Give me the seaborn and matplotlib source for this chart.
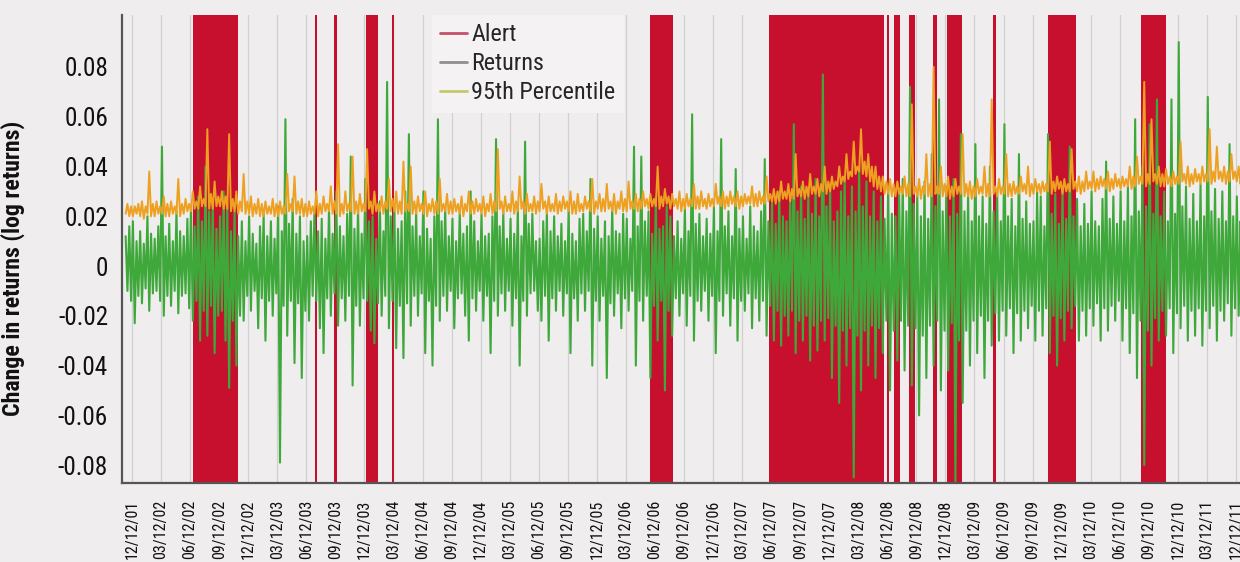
import numpy as np
import pandas as pd
import matplotlib
matplotlib.use("Agg")
import matplotlib.pyplot as plt
from matplotlib.lines import Line2D
from matplotlib import font_manager as fm
import seaborn as sns

# ---------------- data ----------------
quarter_labels = [
    "12/12/01", "03/12/02", "06/12/02", "09/12/02", "12/12/02", "03/12/03", "06/12/03",
    "09/12/03", "12/12/03", "03/12/04", "06/12/04", "09/12/04", "12/12/04", "03/12/05",
    "06/12/05", "09/12/05", "12/12/05", "03/12/06", "06/12/06", "09/12/06", "12/12/06",
    "03/12/07", "06/12/07", "09/12/07", "12/12/07", "03/12/08", "06/12/08", "09/12/08",
    "12/12/08", "03/12/09", "06/12/09", "09/12/09", "12/12/09", "03/12/10", "06/12/10",
    "09/12/10", "12/12/10", "03/12/11", "12/12/11",
]
yticks = [-0.08, -0.06, -0.04, -0.02, 0, 0.02, 0.04, 0.06, 0.08]

# alert periods (in quarters since 12/12/01)
alert_start = [2.10, 6.29, 6.95, 8.05, 8.95, 17.83, 21.93, 25.99, 26.22, 26.75, 27.57, 28.05, 29.64, 31.53, 34.73]
alert_end   = [3.65, 6.36, 7.06, 8.47, 9.02, 18.62, 25.89, 26.06, 26.44, 26.95, 27.71, 28.57, 29.74, 32.50, 35.59]

# returns: high / low within each 1/8-quarter bin (first bin starts at -0.25)
returns_hi = [
    0.012, 0.016, 0.018, 0.010, 0.014, 0.009, 0.020, 0.013, 0.011, 0.016,
    0.048, 0.012, 0.017, 0.010, 0.022, 0.014, 0.012, 0.019, 0.024, 0.016,
    0.028, 0.018, 0.040, 0.022, 0.026, 0.015, 0.020, 0.030, 0.025, 0.014,
    0.022, 0.012, 0.018, 0.010, 0.020, 0.013, 0.009, 0.016, 0.021, 0.012,
    0.018, 0.011, 0.024, 0.014, 0.059, 0.017, 0.027, 0.013, 0.020, 0.010,
    0.012, 0.018, 0.022, 0.014, 0.019, 0.011, 0.023, 0.013, 0.030, 0.016,
    0.012, 0.021, 0.044, 0.015, 0.024, 0.013, 0.035, 0.018, 0.020, 0.011,
    0.026, 0.014, 0.074, 0.020, 0.025, 0.015, 0.018, 0.030, 0.053, 0.016,
    0.022, 0.012, 0.030, 0.015, 0.011, 0.020, 0.059, 0.018, 0.024, 0.012,
    0.019, 0.010, 0.022, 0.013, 0.016, 0.030, 0.018, 0.010, 0.021, 0.012,
    0.013, 0.020, 0.051, 0.016, 0.022, 0.011, 0.019, 0.013, 0.024, 0.012,
    0.050, 0.017, 0.021, 0.010, 0.011, 0.018, 0.022, 0.014, 0.020, 0.012,
    0.017, 0.010, 0.023, 0.013, 0.010, 0.019, 0.021, 0.014, 0.035, 0.015,
    0.020, 0.011, 0.018, 0.012, 0.024, 0.014, 0.013, 0.021, 0.019, 0.011,
    0.048, 0.016, 0.044, 0.018, 0.022, 0.013, 0.028, 0.015, 0.016, 0.024,
    0.020, 0.012, 0.018, 0.011, 0.023, 0.014, 0.061, 0.017, 0.021, 0.012,
    0.019, 0.013, 0.024, 0.014, 0.051, 0.016, 0.022, 0.012, 0.039, 0.015,
    0.020, 0.011, 0.024, 0.016, 0.014, 0.022, 0.043, 0.018, 0.026, 0.017,
    0.030, 0.020, 0.018, 0.028, 0.057, 0.022, 0.032, 0.019, 0.030, 0.021,
    0.035, 0.020, 0.077, 0.024, 0.033, 0.018, 0.022, 0.030, 0.036, 0.020,
    0.032, 0.022, 0.040, 0.024, 0.034, 0.020, 0.030, 0.018, 0.028, 0.019,
    0.032, 0.021, 0.020, 0.030, 0.035, 0.022, 0.072, 0.025, 0.030, 0.020,
    0.034, 0.019, 0.045, 0.024, 0.067, 0.022, 0.032, 0.020, 0.035, 0.021,
    0.053, 0.022, 0.030, 0.018, 0.049, 0.020, 0.028, 0.017, 0.040, 0.022,
    0.030, 0.018, 0.057, 0.020, 0.027, 0.016, 0.045, 0.019, 0.026, 0.017,
    0.018, 0.030, 0.028, 0.016, 0.053, 0.021, 0.029, 0.017, 0.031, 0.019,
    0.048, 0.020, 0.027, 0.016, 0.025, 0.017, 0.030, 0.018, 0.016, 0.027,
    0.042, 0.019, 0.028, 0.017, 0.030, 0.018, 0.032, 0.020, 0.059, 0.022,
    0.040, 0.024, 0.057, 0.021, 0.067, 0.020, 0.030, 0.018, 0.067, 0.021,
    0.090, 0.024, 0.032, 0.019, 0.029, 0.018, 0.033, 0.020, 0.068, 0.022,
    0.031, 0.019, 0.030, 0.018, 0.049, 0.020, 0.028, 0.018,
]
returns_lo = [
    -0.010, -0.014, -0.023, -0.012, -0.015, -0.009, -0.018, -0.011, -0.010, -0.014,
    -0.020, -0.012, -0.016, -0.010, -0.019, -0.012, -0.011, -0.017, -0.022, -0.014,
    -0.030, -0.018, -0.028, -0.016, -0.035, -0.020, -0.018, -0.030, -0.049, -0.022,
    -0.040, -0.020, -0.022, -0.012, -0.018, -0.010, -0.025, -0.013, -0.030, -0.014,
    -0.020, -0.011, -0.079, -0.016, -0.028, -0.014, -0.039, -0.015, -0.045, -0.018,
    -0.022, -0.012, -0.014, -0.025, -0.035, -0.013, -0.020, -0.011, -0.024, -0.013,
    -0.022, -0.012, -0.048, -0.016, -0.024, -0.013, -0.014, -0.026, -0.031, -0.015,
    -0.020, -0.012, -0.025, -0.014, -0.033, -0.016, -0.037, -0.015, -0.024, -0.012,
    -0.020, -0.011, -0.035, -0.014, -0.040, -0.016, -0.022, -0.012, -0.018, -0.010,
    -0.025, -0.013, -0.011, -0.020, -0.030, -0.013, -0.018, -0.010, -0.022, -0.012,
    -0.035, -0.014, -0.020, -0.011, -0.018, -0.010, -0.024, -0.013, -0.040, -0.014,
    -0.020, -0.011, -0.010, -0.018, -0.022, -0.012, -0.030, -0.013, -0.018, -0.010,
    -0.020, -0.011, -0.035, -0.013, -0.022, -0.011, -0.018, -0.010, -0.040, -0.014,
    -0.022, -0.012, -0.045, -0.015, -0.020, -0.011, -0.025, -0.013, -0.018, -0.010,
    -0.040, -0.014, -0.022, -0.012, -0.045, -0.016, -0.030, -0.014, -0.050, -0.018,
    -0.028, -0.013, -0.020, -0.011, -0.024, -0.012, -0.030, -0.014, -0.018, -0.010,
    -0.022, -0.012, -0.035, -0.014, -0.020, -0.011, -0.024, -0.013, -0.030, -0.014,
    -0.018, -0.011, -0.025, -0.013, -0.022, -0.014, -0.028, -0.016, -0.030, -0.018,
    -0.032, -0.020, -0.028, -0.018, -0.035, -0.022, -0.030, -0.020, -0.038, -0.024,
    -0.034, -0.022, -0.030, -0.021, -0.045, -0.024, -0.055, -0.026, -0.040, -0.025,
    -0.085, -0.028, -0.050, -0.026, -0.040, -0.024, -0.045, -0.025, -0.035, -0.022,
    -0.050, -0.026, -0.038, -0.022, -0.042, -0.024, -0.048, -0.025, -0.060, -0.028,
    -0.045, -0.024, -0.040, -0.022, -0.050, -0.026, -0.042, -0.023, -0.087, -0.030,
    -0.055, -0.026, -0.040, -0.022, -0.035, -0.020, -0.045, -0.022, -0.032, -0.019,
    -0.030, -0.018, -0.028, -0.017, -0.035, -0.019, -0.030, -0.018, -0.025, -0.016,
    -0.030, -0.018, -0.028, -0.017, -0.035, -0.020, -0.040, -0.021, -0.030, -0.018,
    -0.025, -0.016, -0.030, -0.018, -0.028, -0.017, -0.024, -0.015, -0.030, -0.017,
    -0.026, -0.016, -0.022, -0.014, -0.030, -0.017, -0.035, -0.019, -0.045, -0.022,
    -0.080, -0.026, -0.040, -0.021, -0.030, -0.018, -0.028, -0.017, -0.035, -0.019,
    -0.025, -0.016, -0.030, -0.018, -0.028, -0.017, -0.032, -0.018, -0.025, -0.016,
    -0.030, -0.018, -0.022, -0.015, -0.028, -0.017, -0.020, -0.014,
]

# 95th percentile: low / high within each 1/8-quarter bin
perc_lo = [
    0.021, 0.020, 0.020, 0.021, 0.020, 0.019, 0.021, 0.020, 0.020, 0.021,
    0.021, 0.020, 0.020, 0.021, 0.021, 0.020, 0.021, 0.022, 0.022, 0.023,
    0.023, 0.024, 0.024, 0.023, 0.023, 0.024, 0.024, 0.023, 0.023, 0.022,
    0.022, 0.021, 0.022, 0.021, 0.021, 0.020, 0.021, 0.020, 0.020, 0.021,
    0.021, 0.020, 0.020, 0.021, 0.021, 0.022, 0.022, 0.021, 0.021, 0.020,
    0.020, 0.021, 0.021, 0.020, 0.021, 0.022, 0.022, 0.021, 0.021, 0.020,
    0.021, 0.022, 0.022, 0.021, 0.021, 0.022, 0.022, 0.023, 0.021, 0.022,
    0.022, 0.021, 0.023, 0.022, 0.022, 0.021, 0.021, 0.022, 0.022, 0.021,
    0.021, 0.022, 0.021, 0.020, 0.022, 0.021, 0.021, 0.022, 0.022, 0.021,
    0.021, 0.022, 0.021, 0.020, 0.022, 0.021, 0.021, 0.022, 0.021, 0.020,
    0.022, 0.021, 0.022, 0.023, 0.021, 0.022, 0.022, 0.021, 0.022, 0.023,
    0.021, 0.022, 0.022, 0.021, 0.022, 0.023, 0.021, 0.022, 0.022, 0.021,
    0.022, 0.023, 0.022, 0.021, 0.021, 0.022, 0.022, 0.023, 0.022, 0.021,
    0.023, 0.022, 0.022, 0.023, 0.022, 0.021, 0.023, 0.022, 0.022, 0.023,
    0.023, 0.022, 0.023, 0.024, 0.023, 0.024, 0.024, 0.023, 0.024, 0.025,
    0.023, 0.024, 0.023, 0.022, 0.023, 0.024, 0.024, 0.023, 0.023, 0.024,
    0.023, 0.024, 0.024, 0.025, 0.024, 0.023, 0.024, 0.025, 0.024, 0.023,
    0.024, 0.025, 0.025, 0.024, 0.024, 0.025, 0.025, 0.026, 0.026, 0.025,
    0.026, 0.027, 0.027, 0.026, 0.027, 0.028, 0.028, 0.027, 0.028, 0.029,
    0.029, 0.028, 0.030, 0.029, 0.030, 0.031, 0.032, 0.033, 0.034, 0.035,
    0.036, 0.037, 0.038, 0.037, 0.036, 0.034, 0.032, 0.031, 0.030, 0.029,
    0.029, 0.028, 0.028, 0.029, 0.029, 0.028, 0.028, 0.029, 0.028, 0.027,
    0.029, 0.028, 0.028, 0.029, 0.029, 0.028, 0.028, 0.027, 0.028, 0.029,
    0.029, 0.028, 0.028, 0.027, 0.028, 0.029, 0.029, 0.028, 0.028, 0.029,
    0.028, 0.029, 0.029, 0.028, 0.028, 0.029, 0.029, 0.030, 0.029, 0.028,
    0.029, 0.030, 0.029, 0.030, 0.030, 0.029, 0.030, 0.031, 0.029, 0.030,
    0.030, 0.031, 0.030, 0.029, 0.030, 0.031, 0.031, 0.030, 0.031, 0.032,
    0.031, 0.030, 0.031, 0.032, 0.031, 0.032, 0.032, 0.031, 0.032, 0.033,
    0.033, 0.032, 0.033, 0.034, 0.033, 0.032, 0.032, 0.033, 0.032, 0.033,
    0.033, 0.034, 0.033, 0.032, 0.033, 0.034, 0.033, 0.034, 0.034, 0.033,
    0.034, 0.035, 0.034, 0.033, 0.034, 0.035, 0.034, 0.033,
]
perc_hi = [
    0.025, 0.024, 0.024, 0.025, 0.026, 0.024, 0.038, 0.025, 0.026, 0.024,
    0.028, 0.025, 0.026, 0.024, 0.035, 0.025, 0.027, 0.025, 0.030, 0.026,
    0.032, 0.027, 0.055, 0.029, 0.034, 0.028, 0.030, 0.028, 0.053, 0.027,
    0.030, 0.026, 0.037, 0.026, 0.028, 0.025, 0.027, 0.025, 0.026, 0.024,
    0.027, 0.025, 0.026, 0.024, 0.037, 0.025, 0.036, 0.026, 0.027, 0.025,
    0.026, 0.024, 0.030, 0.025, 0.028, 0.025, 0.032, 0.026, 0.049, 0.025,
    0.030, 0.025, 0.044, 0.026, 0.029, 0.025, 0.047, 0.026, 0.030, 0.025,
    0.028, 0.026, 0.035, 0.027, 0.030, 0.026, 0.042, 0.025, 0.040, 0.026,
    0.028, 0.025, 0.030, 0.025, 0.027, 0.026, 0.035, 0.025, 0.029, 0.026,
    0.027, 0.025, 0.028, 0.025, 0.030, 0.026, 0.027, 0.025, 0.028, 0.025,
    0.029, 0.026, 0.047, 0.026, 0.028, 0.025, 0.030, 0.026, 0.036, 0.026,
    0.029, 0.025, 0.028, 0.026, 0.033, 0.026, 0.028, 0.025, 0.029, 0.026,
    0.028, 0.026, 0.030, 0.026, 0.029, 0.025, 0.028, 0.026, 0.035, 0.026,
    0.029, 0.027, 0.033, 0.026, 0.029, 0.026, 0.030, 0.027, 0.034, 0.026,
    0.029, 0.027, 0.030, 0.027, 0.029, 0.027, 0.040, 0.028, 0.031, 0.028,
    0.029, 0.027, 0.030, 0.027, 0.029, 0.027, 0.033, 0.028, 0.030, 0.027,
    0.029, 0.027, 0.033, 0.028, 0.030, 0.028, 0.030, 0.028, 0.030, 0.028,
    0.029, 0.028, 0.032, 0.029, 0.030, 0.028, 0.036, 0.029, 0.031, 0.030,
    0.034, 0.030, 0.033, 0.031, 0.045, 0.031, 0.034, 0.032, 0.037, 0.032,
    0.035, 0.033, 0.040, 0.034, 0.036, 0.034, 0.040, 0.036, 0.045, 0.038,
    0.050, 0.040, 0.055, 0.042, 0.045, 0.040, 0.040, 0.036, 0.036, 0.034,
    0.035, 0.033, 0.034, 0.032, 0.036, 0.033, 0.065, 0.032, 0.035, 0.032,
    0.045, 0.033, 0.080, 0.032, 0.040, 0.033, 0.036, 0.032, 0.035, 0.032,
    0.053, 0.033, 0.034, 0.032, 0.035, 0.032, 0.040, 0.033, 0.067, 0.032,
    0.035, 0.032, 0.045, 0.033, 0.034, 0.032, 0.036, 0.033, 0.040, 0.033,
    0.035, 0.033, 0.034, 0.033, 0.050, 0.034, 0.036, 0.034, 0.035, 0.033,
    0.047, 0.034, 0.036, 0.034, 0.038, 0.034, 0.038, 0.035, 0.036, 0.035,
    0.038, 0.035, 0.037, 0.035, 0.036, 0.035, 0.040, 0.036, 0.044, 0.036,
    0.074, 0.037, 0.059, 0.037, 0.040, 0.037, 0.039, 0.036, 0.038, 0.036,
    0.050, 0.037, 0.040, 0.037, 0.039, 0.037, 0.040, 0.037, 0.055, 0.038,
    0.048, 0.038, 0.040, 0.038, 0.045, 0.038, 0.040, 0.038,
]
first_bin = -0.25
bin_width = 0.125

# ---------------- build series ----------------
n = len(returns_hi)
starts = first_bin + bin_width * np.arange(n)
x = np.column_stack([starts + bin_width * 0.25, starts + bin_width * 0.75]).ravel()
df = pd.DataFrame({
    "t": x,
    "returns": np.column_stack([returns_hi, returns_lo]).ravel(),
    "p95": np.column_stack([perc_lo, perc_hi]).ravel(),
})

# ---------------- fonts ----------------
fam_names = {f.name for f in fm.fontManager.ttflist}
FONT = "Roboto Condensed" if "Roboto Condensed" in fam_names else "Liberation Sans"

# ---------------- style ----------------
BG = "#efedee"
RED = "#c6102e"
GREEN = "#3ea83a"
ORANGE = "#eea021"

sns.set_theme(style="white")
plt.rcParams["font.family"] = [FONT, "DejaVu Sans"]

fig = plt.figure(figsize=(12.4, 5.62), dpi=100, facecolor=BG)
ax = fig.add_axes([122 / 1240, 79 / 562, (1240 - 122) / 1240, (483 - 15) / 562])
ax.set_facecolor(BG)

for s, e in zip(alert_start, alert_end):
    ax.axvspan(s, e, color=RED, lw=0, zorder=1)

sns.lineplot(data=df, x="t", y="returns", ax=ax, color=GREEN, lw=1.5,
             estimator=None, zorder=3, legend=False)
sns.lineplot(data=df, x="t", y="p95", ax=ax, color=ORANGE, lw=1.4,
             estimator=None, zorder=4, legend=False)

ax.set_xlim(-0.344, 38.14)
ax.set_ylim(-0.0872, 0.1009)

ax.set_xticks(np.arange(len(quarter_labels)))
ax.set_xticklabels(quarter_labels, rotation=90, fontsize=11.5, color="#111111")
ax.set_yticks(yticks)
ax.set_yticklabels([("0" if v == 0 else f"{v:.2f}") for v in yticks], fontsize=18.2, color="#111111")
ax.tick_params(axis="x", length=0, pad=12)
ax.tick_params(axis="y", length=0, pad=10)

ax.grid(axis="x", color="#d0d0d0", lw=0.9, zorder=0)
ax.grid(axis="y", visible=False)
for side in ["top", "right"]:
    ax.spines[side].set_visible(False)
for side in ["left", "bottom"]:
    ax.spines[side].set_color("#555555")
    ax.spines[side].set_linewidth(1.6)
    ax.spines[side].set_zorder(5)

ax.set_xlabel("")
ax.set_ylabel("Change in returns (log returns)", fontsize=17.2, fontweight="bold", color="#111111")
ax.yaxis.set_label_coords(-0.087, 0.459)

handles = [
    Line2D([0], [0], color="#c4506a", lw=2),
    Line2D([0], [0], color="#8f8f8f", lw=2),
    Line2D([0], [0], color="#c5c86a", lw=2),
]
leg = ax.legend(handles, ["Alert", "Returns", "95th Percentile"], loc="upper left",
                bbox_to_anchor=((432 - 122) / 1118, 1.0), fontsize=17.4,
                frameon=True, facecolor="#f4f2f3", edgecolor="none", framealpha=1,
                fancybox=False, handlelength=1.08, handletextpad=0.2, labelspacing=0.24,
                borderpad=0.35, borderaxespad=0)
leg.set_zorder(10)

fig.savefig("out.png", dpi=100, facecolor=BG)
